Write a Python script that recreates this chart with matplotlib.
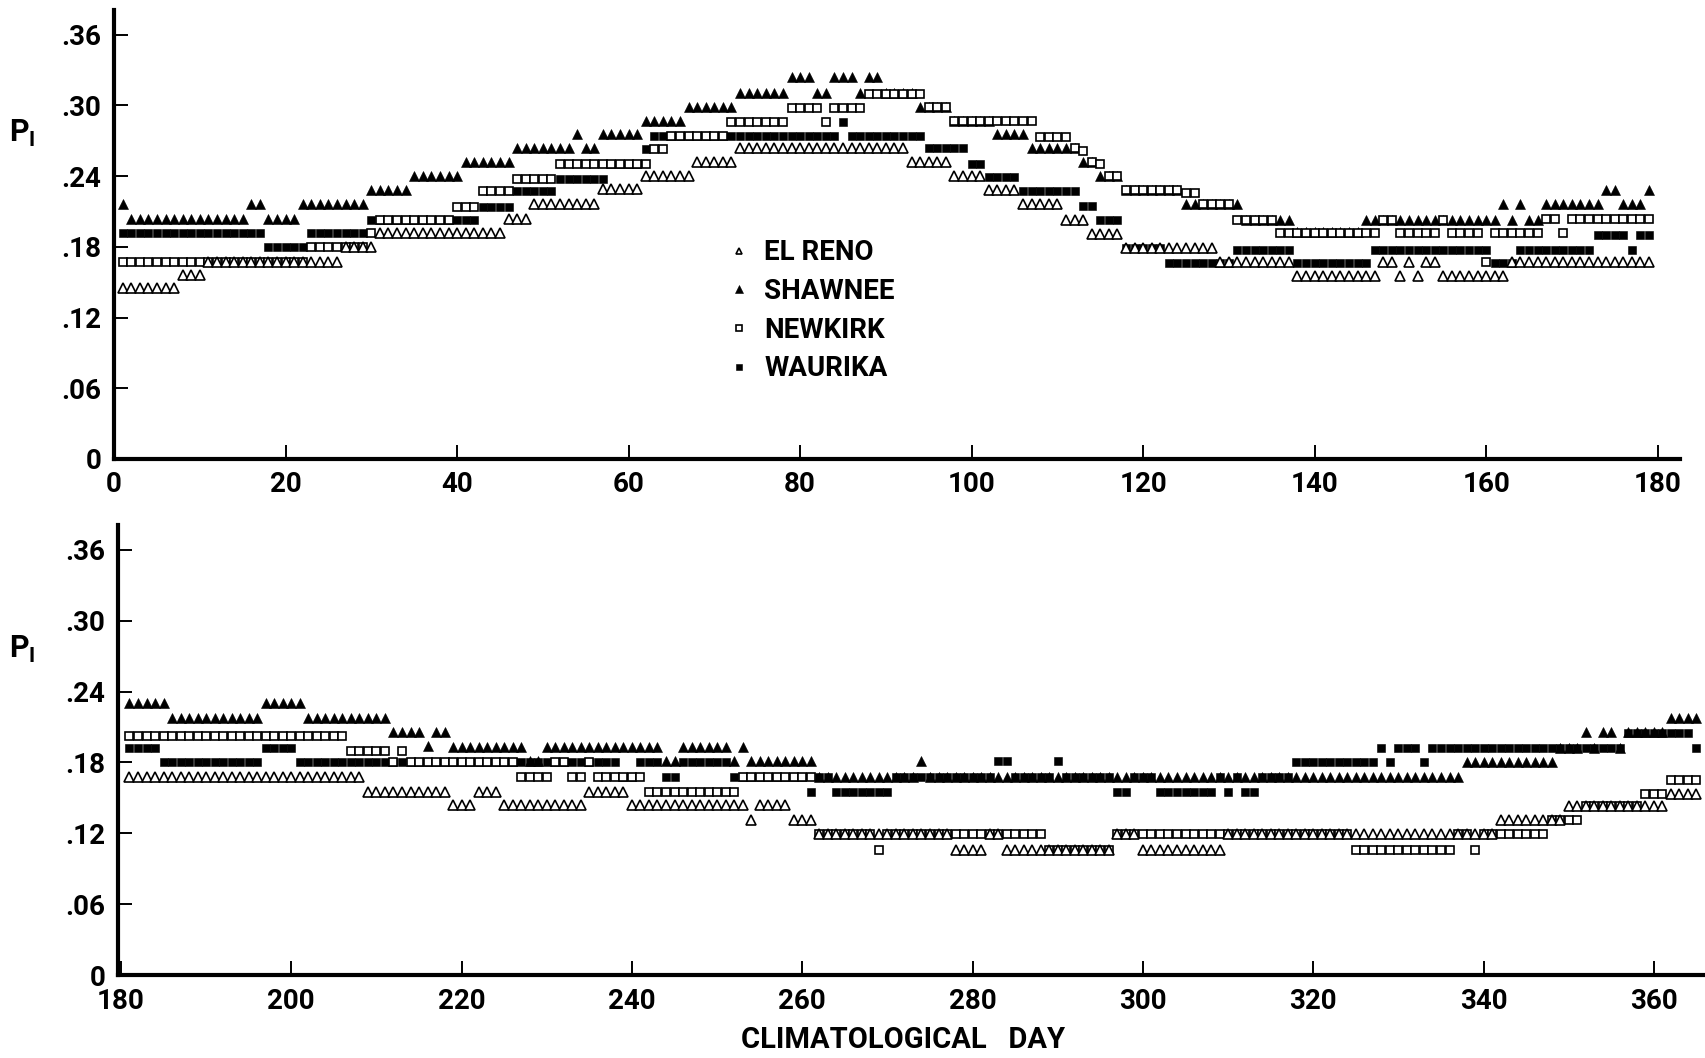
import numpy as np
import matplotlib
matplotlib.use('Agg')
import matplotlib.pyplot as plt
from matplotlib import font_manager
from matplotlib.lines import Line2D

# шрифт: узкий, если есть
names = {f.name for f in font_manager.fontManager.ttflist}
FONT = 'Liberation Sans Narrow' if 'Liberation Sans Narrow' in names else 'Roboto'
plt.rcParams['font.family'] = [FONT, 'DejaVu Sans']
plt.rcParams['font.weight'] = 'bold'
plt.rcParams['mathtext.fontset'] = 'custom'
plt.rcParams['mathtext.bf'] = FONT + ':bold'
plt.rcParams['mathtext.rm'] = FONT + ':bold'

# (first day, last day, P1)
el_reno = [(1, 7, .145), (8, 10, .156), (11, 26, .167), (27, 30, .180), (31, 45, .192),
           (46, 48, .204), (49, 56, .216), (57, 61, .229), (62, 67, .240), (68, 72, .252),
           (73, 92, .264), (93, 97, .252), (98, 101, .240), (102, 105, .228), (106, 110, .216),
           (111, 113, .203), (114, 117, .191), (118, 128, .179), (129, 137, .167), (138, 147, .155),
           (148, 149, .167), (150, 150, .155), (151, 151, .167), (152, 152, .155), (153, 154, .167),
           (155, 162, .155), (163, 179, .167),
           (181, 208, .168), (209, 218, .155), (219, 221, .144), (222, 224, .155), (225, 234, .144),
           (235, 239, .155), (240, 253, .144), (254, 254, .131), (255, 258, .144), (259, 261, .131),
           (262, 277, .119), (278, 281, .106), (282, 283, .119), (284, 296, .106), (297, 299, .119),
           (300, 309, .106), (310, 341, .119), (342, 349, .131), (350, 361, .143), (362, 365, .153)]

shawnee = [(1, 1, .216), (2, 15, .204), (16, 17, .216), (18, 21, .204), (22, 29, .216),
           (30, 34, .228), (35, 40, .240), (41, 46, .252), (47, 53, .264), (54, 54, .276),
           (55, 56, .264), (57, 61, .276), (62, 66, .287), (67, 72, .299), (73, 78, .311),
           (79, 81, .324), (82, 83, .311), (84, 86, .324), (87, 87, .311), (88, 89, .324),
           (90, 93, .311), (94, 97, .299), (98, 102, .287), (103, 106, .276), (107, 112, .264),
           (113, 114, .252), (115, 117, .240), (118, 124, .228), (125, 131, .216), (132, 137, .203),
           (138, 145, .193), (146, 161, .203), (162, 162, .216), (163, 163, .203), (164, 164, .216),
           (165, 166, .203), (167, 173, .216), (174, 175, .228), (176, 178, .216), (179, 179, .228),
           (181, 185, .230), (186, 196, .218), (197, 201, .230), (202, 211, .218), (212, 215, .206),
           (216, 216, .194), (217, 218, .206), (219, 227, .193), (228, 229, .181), (230, 243, .193),
           (244, 245, .181), (246, 251, .193), (252, 252, .181), (253, 253, .193), (254, 261, .181),
           (262, 273, .168), (274, 274, .181), (275, 337, .168), (338, 348, .180), (349, 351, .192),
           (352, 352, .206), (353, 353, .192), (354, 355, .206), (356, 356, .192), (357, 361, .206),
           (362, 365, .218)]

newkirk = [(1, 11, .167), (12, 22, .167), (23, 29, .180), (30, 30, .192), (31, 39, .203),
           (40, 42, .214), (43, 46, .227), (47, 51, .238), (52, 62, .250), (63, 64, .263),
           (65, 71, .274), (72, 78, .286), (79, 82, .298), (83, 83, .286), (84, 87, .298),
           (88, 94, .310), (95, 97, .299), (98, 107, .287), (108, 111, .273), (112, 112, .264),
           (113, 113, .261), (114, 114, .252), (115, 115, .250), (116, 117, .240), (118, 124, .228),
           (125, 126, .226), (127, 130, .216), (131, 135, .203), (136, 147, .192), (148, 149, .203),
           (150, 154, .192), (155, 155, .203), (156, 159, .192), (160, 160, .167), (161, 166, .192),
           (167, 168, .204), (169, 169, .192), (170, 179, .204),
           (181, 206, .202), (207, 211, .190), (212, 212, .180), (213, 213, .190), (214, 226, .180),
           (227, 230, .168), (231, 232, .180), (233, 234, .168), (235, 235, .180), (236, 241, .168),
           (242, 252, .155), (253, 261, .168), (262, 268, .119), (269, 269, .106), (270, 288, .119),
           (289, 296, .106), (297, 324, .119), (325, 336, .106), (337, 338, .119), (339, 339, .106),
           (340, 347, .119), (348, 351, .131), (352, 358, .143), (359, 361, .153), (362, 365, .165)]

waurika = [(1, 17, .192), (18, 22, .180), (23, 29, .192), (30, 42, .203), (43, 46, .214),
           (47, 51, .227), (52, 57, .238), (58, 61, .250), (62, 62, .263), (63, 84, .274),
           (85, 85, .286), (86, 94, .274), (95, 99, .264), (100, 101, .250), (102, 105, .239),
           (106, 112, .227), (113, 114, .215), (115, 117, .203), (118, 122, .179), (123, 130, .166),
           (131, 137, .177), (138, 146, .166), (147, 160, .177), (161, 163, .166), (164, 172, .177),
           (173, 176, .190), (177, 177, .177), (178, 179, .190),
           (181, 184, .192), (185, 196, .180), (197, 200, .192), (201, 238, .180), (239, 240, .168),
           (241, 243, .180), (244, 245, .168), (246, 251, .180), (252, 260, .168), (261, 261, .155),
           (262, 263, .168), (264, 270, .155), (271, 282, .168), (283, 284, .181), (285, 289, .168),
           (290, 290, .181), (291, 296, .168), (297, 298, .155), (299, 301, .168), (302, 308, .155),
           (309, 309, .168), (310, 310, .155), (311, 311, .168), (312, 313, .155), (314, 317, .168),
           (318, 327, .180), (328, 328, .192), (329, 329, .180), (330, 332, .192), (333, 333, .180),
           (334, 356, .192), (357, 364, .205), (365, 365, .192)]

y_ticks = [0, .06, .12, .18, .24, .30, .36]
y_labels = ['0', '.06', '.12', '.18', '.24', '.30', '.36']


def expand(runs):
    d = np.concatenate([np.arange(a, b + 1) for a, b, v in runs])
    p = np.concatenate([np.full(b - a + 1, v) for a, b, v in runs])
    return d, p


styles = {
    'WAURIKA': dict(marker='s', ms=6.4, mfc='black', mec='black', mew=0.4),
    'SHAWNEE': dict(marker='^', ms=7.6, mfc='black', mec='black', mew=0.4),
    'NEWKIRK': dict(marker='s', ms=5.7, mfc='white', mec='black', mew=1.2),
    'EL RENO': dict(marker='^', ms=7.0, mfc='white', mec='black', mew=1.2),
}
series = {'WAURIKA': waurika, 'SHAWNEE': shawnee, 'NEWKIRK': newkirk, 'EL RENO': el_reno}

fig = plt.figure(figsize=(17.05, 10.58), dpi=100)
ax1 = fig.add_axes([0.0669, 0.5662, 0.9184, 0.4243])
ax2 = fig.add_axes([0.0692, 0.0784, 0.9308, 0.4254])

for name, runs in series.items():
    d, p = expand(runs)
    top = d <= 180
    ax1.plot(d[top], p[top], ls='none', **styles[name])
    ax2.plot(d[~top], p[~top], ls='none', **styles[name])

ax1.set_xlim(0, 182.6)
ax1.set_xticks(np.arange(0, 181, 20))
ax2.set_xlim(179.65, 366)
ax2.set_xticks(np.arange(180, 361, 20))

for ax in (ax1, ax2):
    ax.set_ylim(0, 0.381)
    ax.set_yticks(y_ticks)
    ax.set_yticklabels(y_labels)
    for s in ('top', 'right'):
        ax.spines[s].set_visible(False)
    for s in ('left', 'bottom'):
        ax.spines[s].set_linewidth(3)
    ax.tick_params(direction='in', length=10, width=1.4, labelsize=20, pad=9)
    ax.set_facecolor('none')

fig.text(0.013, 0.874, r'$\mathbf{P_I}$', fontsize=22, ha='center', va='center')
fig.text(0.013, 0.386, r'$\mathbf{P_I}$', fontsize=22, ha='center', va='center')
fig.text(0.5296, 0.017, 'CLIMATOLOGICAL   DAY', fontsize=21, ha='center', va='center')

order = ['EL RENO', 'SHAWNEE', 'NEWKIRK', 'WAURIKA']
handles = []
for name in order:
    st = dict(styles[name])
    st['ms'] = st['ms'] * 0.7
    handles.append(Line2D([], [], ls='none', label=name, **st))
ax1.legend(handles=handles, loc='upper left', bbox_to_anchor=(0.419, 0.787),
           bbox_transform=fig.transFigure, frameon=False, borderpad=0,
           handlelength=0.8, handletextpad=0.5, labelspacing=0.42, fontsize=20)

plt.savefig('out.png', dpi=100)
